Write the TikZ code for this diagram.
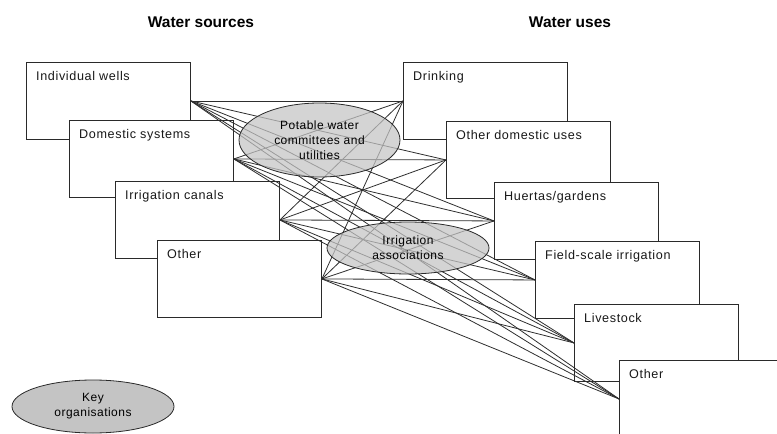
\documentclass[tikz,border=0pt]{standalone}
\usepackage{fontspec}
\setmainfont{Liberation Sans}
\newfontfamily\lblfont[LetterSpace=5]{Liberation Sans}
\newfontfamily\orgfont[LetterSpace=4]{Liberation Sans}
\usetikzlibrary{shapes.geometric}
\definecolor{edgegray}{HTML}{2A2A2A}
\definecolor{linkgray}{HTML}{2E2E2E}
\definecolor{ellfill}{HTML}{C4C4C4}
\begin{document}
\begin{tikzpicture}[x=1pt,y=-1pt,
  boxnode/.style={draw=edgegray, line width=0.9pt, fill=white, anchor=north west,
    minimum width=164pt, minimum height=77pt, inner sep=0pt},
  boxlabel/.style={anchor=base west, inner sep=0pt, font=\lblfont\fontsize{12.6}{15}\selectfont, text=black!90},
  titlenode/.style={font=\fontsize{15.5}{18}\selectfont\bfseries, inner sep=0pt},
  link/.style={draw=linkgray, line width=0.8pt},
  orgnode/.style={ellipse, draw=edgegray, line width=0.8pt, fill=ellfill, fill opacity=0.72,
    text opacity=1, inner sep=0pt, align=center, font=\orgfont\fontsize{12}{15}\selectfont}
]
\useasboundingbox (0,0) rectangle (777,434);

\node[titlenode] (tsrc) at (201,22) {Water sources};
\node[titlenode] (tuse) at (570,22) {Water uses};

% sources
\node[boxnode] (s1) at (26,62) {};
\node[boxlabel] (s1l) at ([xshift=10pt,yshift=-18.5pt]s1.north west) {Individual wells};
\node[boxnode] (s2) at (69,120) {};
\node[boxlabel] (s2l) at ([xshift=10pt,yshift=-18.5pt]s2.north west) {Domestic systems};
\node[boxnode] (s3) at (115,181) {};
\node[boxlabel] (s3l) at ([xshift=10pt,yshift=-18.5pt]s3.north west) {Irrigation canals};
\node[boxnode] (s4) at (157,240) {};
\node[boxlabel] (s4l) at ([xshift=10pt,yshift=-18.5pt]s4.north west) {Other};

% uses
\node[boxnode] (u1) at (403,62) {};
\node[boxlabel] (u1l) at ([xshift=10pt,yshift=-18.5pt]u1.north west) {Drinking};
\node[boxnode] (u2) at (446,121) {};
\node[boxlabel] (u2l) at ([xshift=10pt,yshift=-18.5pt]u2.north west) {Other domestic uses};
\node[boxnode] (u3) at (494,182) {};
\node[boxlabel] (u3l) at ([xshift=10pt,yshift=-18.5pt]u3.north west) {Huertas/gardens};
\node[boxnode] (u4) at (535,241) {};
\node[boxlabel] (u4l) at ([xshift=10pt,yshift=-18.5pt]u4.north west) {Field-scale irrigation};
\node[boxnode] (u5) at (574,304) {};
\node[boxlabel] (u5l) at ([xshift=10pt,yshift=-18.5pt]u5.north west) {Livestock};
\node[boxnode] (u6) at (619,360) {};
\node[boxlabel] (u6l) at ([xshift=10pt,yshift=-18.5pt]u6.north west) {Other};

% links
\foreach \s in {s1,s2,s3,s4}{
  \foreach \u in {u1,u2,u3,u4,u5,u6}{
    \draw[link] (\s.east) -- (\u.west);
  }
}

% organisations
\node[orgnode, minimum width=161pt, minimum height=74pt] (pot) at (319.5,140)
  {Potable water\\committees and\\utilities};
\node[orgnode, minimum width=162pt, minimum height=52pt] (irr) at (408,248)
  {Irrigation\\associations};
\node[orgnode, minimum width=162pt, minimum height=53pt, fill opacity=1] (key) at (93,406.5)
  {Key\\organisations};
\end{tikzpicture}
\end{document}
